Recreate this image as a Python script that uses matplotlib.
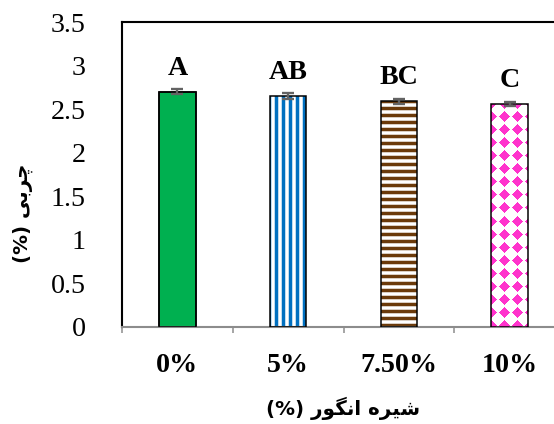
import numpy as np
import matplotlib
matplotlib.use("Agg")
from matplotlib import pyplot as plt

# --- data ---
groups = ["0%", "5%", "7.50%", "10%"]
fat = [2.70, 2.655, 2.59, 2.56]
fat_err = [0.03, 0.035, 0.03, 0.025]
letters = ["A", "AB", "BC", "C"]
y_ticks = [0, 0.5, 1, 1.5, 2, 2.5, 3, 3.5]
y_tick_labels = ["0", "0.5", "1", "1.5", "2", "2.5", "3", "3.5"]

# Persian labels, written in visual order with presentation forms
# (matplotlib does no shaping / bidi by itself)
ylabel_fa = "(%) " + "\uFBFD\uFE91\uFEAE\uFB7C"                    # چربی (%)
xlabel_fa = "(%) " + "\uFEAD\uFEEE\uFB95\uFEE7\uFE8D" + " " + "\uFEE9\uFEAE\uFBFF\uFEB7"  # شیره انگور (%)

DPI = 84
plt.rcParams['hatch.linewidth'] = 3.0
serif = ['Liberation Serif', 'DejaVu Serif']

fig = plt.figure(figsize=(554 / DPI, 424 / DPI), dpi=DPI)
ax = fig.add_axes([122 / 554, 97 / 424, 443 / 554, 305 / 424])

x = np.arange(len(groups))
bw = 0.33

# bar 1: solid green
ax.bar(x[0], fat[0], bw, color='#00B050', edgecolor='black', linewidth=1.3, zorder=2)
# bar 2: blue vertical stripes
ax.bar(x[1], fat[1], bw, color='white', edgecolor='#0070C0', hatch='||', linewidth=0, zorder=2)
# bar 3: brown horizontal stripes
ax.bar(x[2], fat[2], bw, color='white', edgecolor='#6B3A0A', hatch='--', linewidth=0, zorder=2)
# bar 4: pink diamond pattern (image clipped to the bar)
b4 = ax.bar(x[3], fat[3], bw, color='white', linewidth=0, zorder=2)[0]

# outlines for all bars
ax.bar(x, fat, bw, fill=False, edgecolor='black', linewidth=1.3, zorder=4)

ax.set_xlim(-0.5, 3.5)
ax.set_ylim(0, 3.5)

# build the diamond pattern at pixel resolution of bar 4
(x0, y0), (x1, y1) = ax.transData.transform([[x[3] - bw / 2, 0], [x[3] + bw / 2, fat[3]]])
w_px, h_px = int(round(x1 - x0)), int(round(y1 - y0))
yy, xx = np.mgrid[0:h_px, 0:w_px]
a = 13.0
dx = np.abs(((xx + a / 2) % a) - a / 2)
dy = np.abs(((yy + a / 2) % a) - a / 2)
pink = np.array([255, 51, 204]) / 255.0
img = np.ones((h_px, w_px, 3))
img[(dx + dy) < 0.46 * a] = pink
im = ax.imshow(img, extent=[x[3] - bw / 2, x[3] + bw / 2, 0, fat[3]],
               aspect='auto', interpolation='nearest', zorder=3)
im.set_clip_path(b4)
ax.set_xlim(-0.5, 3.5)
ax.set_ylim(0, 3.5)

# error bars
ax.errorbar(x, fat, yerr=fat_err, fmt='none', ecolor='#636363',
            elinewidth=2.0, capsize=5, capthick=2.0, zorder=5)

# significance letters
for xi, v, t in zip(x, fat, letters):
    ax.annotate(t, (xi, v), xytext=(0, 14.5), textcoords='offset points',
                ha='center', va='baseline', fontsize=24, fontweight='bold',
                family=serif)

# spines
ax.spines['left'].set_color('black')
ax.spines['left'].set_linewidth(1.8)
ax.spines['top'].set_color('black')
ax.spines['top'].set_linewidth(1.8)
ax.spines['right'].set_visible(False)
ax.spines['bottom'].set_color('#8C8C8C')
ax.spines['bottom'].set_linewidth(1.8)

# x ticks: marks at category borders, labels at centers
ax.set_xticks([-0.5, 0.5, 1.5, 2.5, 3.5])
ax.set_xticklabels([])
ax.tick_params(axis='x', which='major', length=5, width=1.3, color='#8C8C8C', direction='out')
ax.set_xticks(x, minor=True)
ax.set_xticklabels(groups, minor=True, fontsize=24, fontweight='bold', family=serif)
ax.tick_params(axis='x', which='minor', length=0, pad=22)

ax.set_yticks(y_ticks)
ax.set_yticklabels(y_tick_labels, fontsize=24, family=serif)
ax.tick_params(axis='y', length=0, pad=31)

ax.text(-0.2235, 0.374, ylabel_fa, transform=ax.transAxes, rotation=90,
        ha='center', va='center', fontsize=17, fontweight='bold', family=['DejaVu Sans'])
ax.text(0.5, -0.2656, xlabel_fa, transform=ax.transAxes,
        ha='center', va='center', fontsize=17, fontweight='bold', family=['DejaVu Sans'])

fig.savefig("out.png", dpi=DPI)
